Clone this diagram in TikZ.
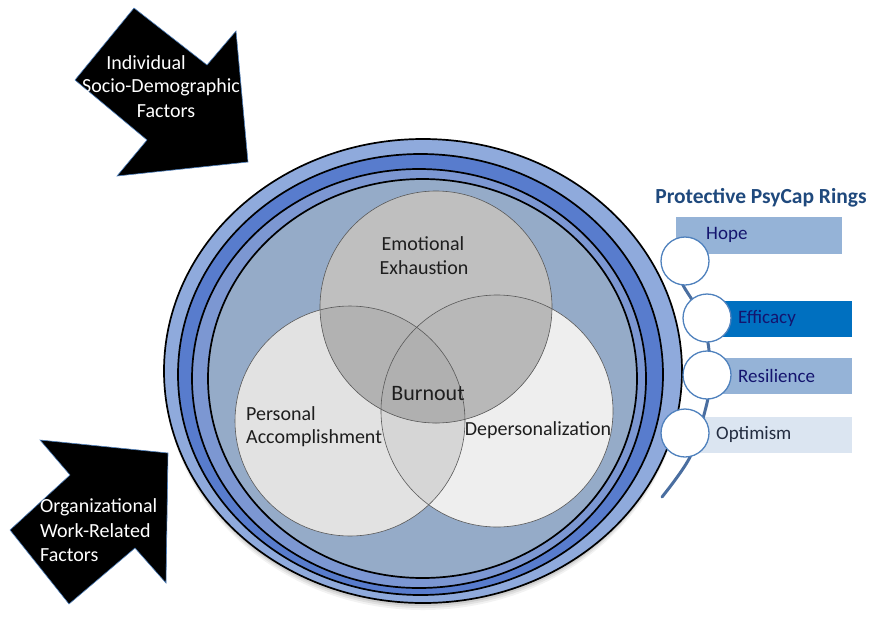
\documentclass[tikz,border=0pt]{standalone}
\usepackage{fontspec}
\setmainfont{Carlito}
\definecolor{ringA}{RGB}{143,170,220}
\definecolor{ringB}{RGB}{88,124,205}
\definecolor{ringC}{RGB}{124,151,210}
\definecolor{ringD}{RGB}{149,171,200}
\definecolor{arrowedge}{RGB}{79,129,189}
\definecolor{titleblue}{RGB}{31,73,125}
\definecolor{boxlight}{RGB}{149,179,215}
\definecolor{boxdark}{RGB}{0,112,192}
\definecolor{boxpale}{RGB}{219,229,241}
\definecolor{navytext}{RGB}{20,20,110}
\definecolor{optext}{RGB}{35,45,65}
\definecolor{circblue}{RGB}{79,129,189}
\definecolor{arcblue}{RGB}{74,110,160}
\definecolor{vennPA}{RGB}{226,226,226}
\definecolor{vennDP}{RGB}{238,238,238}
\definecolor{vennEE}{RGB}{191,191,191}
\definecolor{vennPADP}{RGB}{214,214,214}
\definecolor{vennEEPA}{RGB}{178,178,178}
\definecolor{vennEEDP}{RGB}{184,184,184}
\definecolor{vennAll}{RGB}{176,176,176}
\definecolor{venntxt}{RGB}{30,30,30}
\begin{document}
\begin{tikzpicture}[x=1pt,y=-1pt,
  ringline/.style={draw=black,line width=1.7pt},
  vennline/.style={draw=black!65,line width=0.6pt},
  bigarrow/.style={fill=black,draw=arrowedge,line width=0.6pt,line join=miter},
  arrowtext/.style={text=white,font=\fontsize{20}{24}\selectfont,inner sep=0pt},
  venntext/.style={text=venntxt,font=\fontsize{20}{24}\selectfont,inner sep=0pt},
  boxtext/.style={text=navytext,font=\fontsize{19}{23}\selectfont,inner sep=0pt,anchor=west},
  ringcirc/.style={circle,draw=circblue,fill=white,line width=1.3pt,minimum size=48pt,inner sep=0pt},
  arcline/.style={draw=arcblue,line width=3pt,line cap=round}]
\useasboundingbox (0,0) rectangle (874,635);

% block arrows
\draw[bigarrow] (134,8) -- (207,65) -- (236,31) -- (248,162) -- (117,176)
  -- (147,140) -- (75,80) -- cycle;
\draw[bigarrow] (40,440) -- (168,453) -- (166,583) -- (135,548) -- (69,604)
  -- (10,530) -- (70,475) -- cycle;
\node[arrowtext] (ia1) at (146,63) {Individual};
\node[arrowtext] (ia2) at (161,87) {Socio-Demographic};
\node[arrowtext] (ia3) at (166,111) {Factors};
\node[arrowtext,anchor=west] (oa1) at (40,507) {Organizational};
\node[arrowtext,anchor=west] (oa2) at (40,531) {Work-Related};
\node[arrowtext,anchor=west] (oa3) at (40,555) {Factors};

% soft shadow under the rings
\foreach \d/\o in {7/0.05,5/0.07,3/0.09}
  \fill[black,opacity=\o] (423,371+\d) ellipse [x radius=258pt, y radius=232pt];

% nested rings
\coordinate (r1) at (423,371);
\coordinate (r2) at (420.5,374.5);
\coordinate (r3) at (419,378.5);
\coordinate (r4) at (422.5,378.5);
\draw[ringline,fill=ringA] (r1) ellipse [x radius=259pt, y radius=232pt];
\draw[ringline,fill=ringB] (r2) ellipse [x radius=242.5pt, y radius=220.5pt];
\draw[ringline,fill=ringC] (r3) ellipse [x radius=227pt, y radius=209.5pt];
\draw[ringline,fill=ringD] (r4) ellipse [x radius=214.5pt, y radius=199.5pt];

% Venn diagram
\coordinate (PA) at (350,421);
\coordinate (DP) at (497,411);
\coordinate (EE) at (436,307);
\fill[vennPA] (PA) circle (115pt);
\fill[vennDP] (DP) circle (116pt);
\begin{scope}
  \clip (PA) circle (115pt);
  \fill[vennPADP] (DP) circle (116pt);
\end{scope}
\fill[vennEE] (EE) circle (116pt);
\begin{scope}
  \clip (EE) circle (116pt);
  \fill[vennEEPA] (PA) circle (115pt);
  \fill[vennEEDP] (DP) circle (116pt);
  \clip (PA) circle (115pt);
  \fill[vennAll] (DP) circle (116pt);
\end{scope}
\draw[vennline] (PA) circle (115pt);
\draw[vennline] (DP) circle (116pt);
\draw[vennline] (EE) circle (116pt);

\node[venntext] (ee1) at (423,244) {Emotional};
\node[venntext] (ee2) at (424,268) {Exhaustion};
\node[venntext,font=\fontsize{22}{26}\selectfont] (bo) at (428,394) {Burnout};
\node[venntext,anchor=west] (pa1) at (246,414) {Personal};
\node[venntext,anchor=west] (pa2) at (246,438) {Accomplishment};
\node[venntext] (dp) at (538,430) {Depersonalization};

% protective rings panel
\node[text=titleblue,font=\bfseries\fontsize{21.5}{26}\selectfont,inner sep=0pt]
  (ttl) at (761,198) {Protective PsyCap Rings};
\fill[boxlight] (676,217) rectangle (842,254);
\fill[boxdark] (707,301) rectangle (852,337);
\fill[boxlight] (707,358) rectangle (852,394);
\fill[boxpale] (685,417) rectangle (852,453);

\draw[arcline] plot[smooth] coordinates
  {(676,270) (684,287) (699,312) (708,343) (710,373) (707,403) (690,457) (662,497)};

\node[ringcirc] (hopec) at (685,261) {};
\node[ringcirc] (effc) at (707,318) {};
\node[ringcirc] (resc) at (707,375) {};
\node[ringcirc] (optc) at (685,433) {};

\node[boxtext] (hopet) at (706,235) {Hope};
\node[boxtext] (efft) at (738,318) {Efficacy};
\node[boxtext] (rest) at (738,376) {Resilience};
\node[boxtext,text=optext] (optt) at (716,434) {Optimism};
\end{tikzpicture}
\end{document}
